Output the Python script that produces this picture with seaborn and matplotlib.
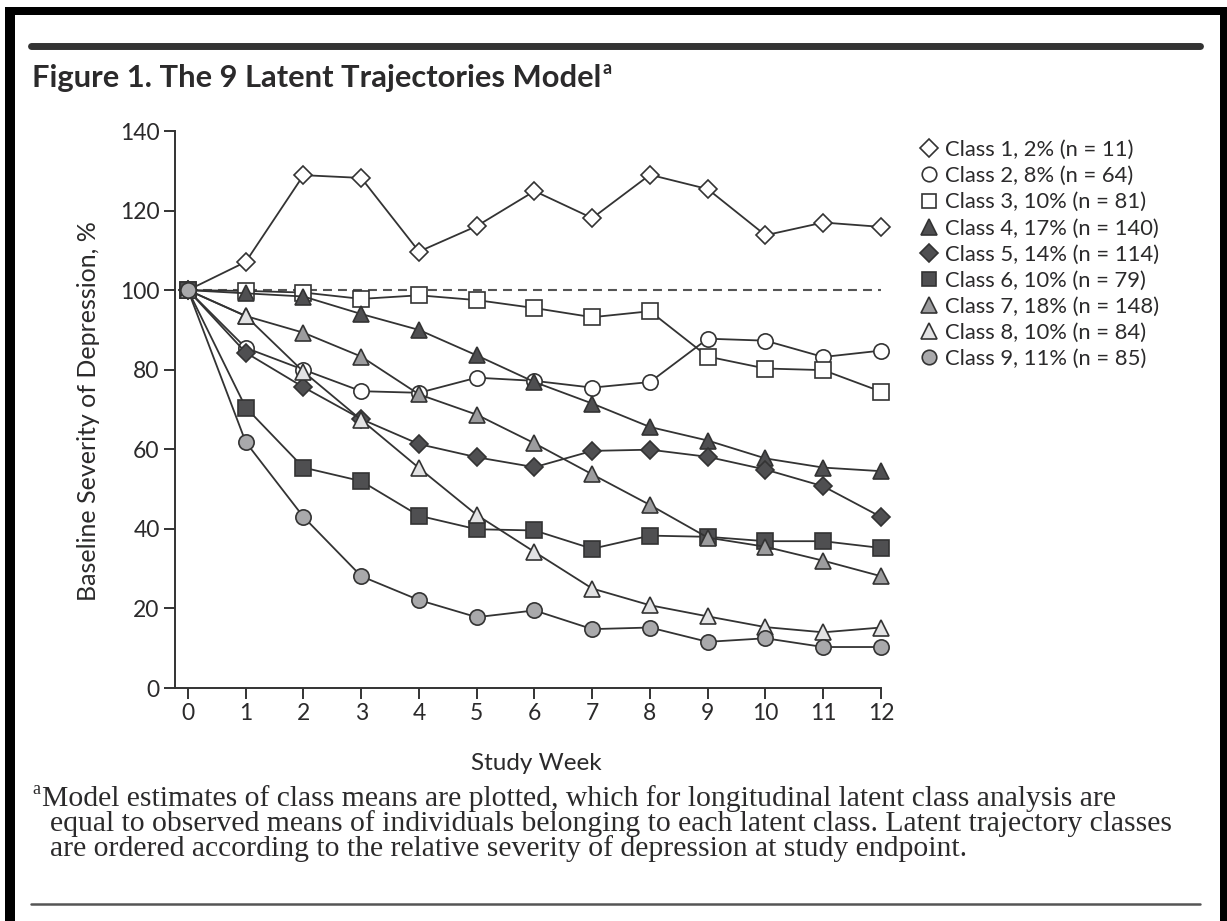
import matplotlib
matplotlib.use("Agg")
import matplotlib.pyplot as plt
from matplotlib.lines import Line2D
from matplotlib.patches import Rectangle
import pandas as pd
import seaborn as sns

# ---- data ---------------------------------------------------------------
weeks = list(range(13))
class_labels = [
    "Class 1, 2% (n = 11)",
    "Class 2, 8% (n = 64)",
    "Class 3, 10% (n = 81)",
    "Class 4, 17% (n = 140)",
    "Class 5, 14% (n = 114)",
    "Class 6, 10% (n = 79)",
    "Class 7, 18% (n = 148)",
    "Class 8, 10% (n = 84)",
    "Class 9, 11% (n = 85)",
]
class1 = [100, 107.1, 128.9, 128.2, 109.7, 116.1, 124.9, 118.1, 129.0, 125.4, 113.8, 117.0, 115.9]
class2 = [100, 85.5, 80.0, 74.6, 74.2, 78.0, 77.2, 75.5, 76.9, 87.8, 87.3, 83.2, 84.8]
class3 = [100, 99.8, 99.4, 97.8, 98.7, 97.5, 95.5, 93.2, 94.7, 83.3, 80.3, 79.9, 74.5]
class4 = [100, 99.2, 98.4, 94.0, 90.0, 83.6, 76.9, 71.5, 65.6, 62.2, 57.7, 55.4, 54.5]
class5 = [100, 84.3, 75.6, 67.6, 61.3, 58.0, 55.5, 59.6, 59.9, 58.1, 54.9, 50.7, 43.0]
class6 = [100, 70.5, 55.4, 52.0, 43.3, 39.9, 39.6, 35.0, 38.3, 38.0, 36.9, 36.9, 35.2]
class7 = [100, 93.5, 89.3, 83.3, 73.8, 68.7, 61.5, 53.7, 46.0, 37.8, 35.5, 32.0, 28.1]
class8 = [100, 93.5, 79.5, 67.4, 55.3, 43.5, 34.2, 25.0, 20.8, 18.0, 15.3, 14.0, 15.2]
class9 = [100, 61.8, 43.0, 28.1, 22.1, 17.8, 19.5, 14.8, 15.2, 11.6, 12.5, 10.3, 10.3]
series = [class1, class2, class3, class4, class5, class6, class7, class8, class9]

y_ticks = [0, 20, 40, 60, 80, 100, 120, 140]
baseline = 100

df = pd.DataFrame(
    [(lab, w, v) for lab, vals in zip(class_labels, series) for w, v in zip(weeks, vals)],
    columns=["cls", "week", "value"],
)

# ---- styling ------------------------------------------------------------
sns.set_style("white")
plt.rcParams["font.family"] = ["Lato", "DejaVu Sans"]
ink = "#2b2a2b"
plt.rcParams["text.color"] = ink

markers = ["D", "o", "s", "^", "D", "s", "^", "^", "o"]
faces = ["white", "white", "white", "#4f4f51", "#4f4f51", "#4f4f51",
         "#9c9c9e", "#e2e2e3", "#a9a9ab"]
sizes = {"D": 9.2, "o": 11.0, "s": 11.3, "^": 11.8}

fig = plt.figure(figsize=(12.27, 9.21), dpi=100)
ax = fig.add_axes([175 / 1227, 1 - 688 / 921, 706 / 1227, 557 / 921])

ax.axhline(baseline, xmin=(0 - (-0.225)) / 12.225, xmax=1.0, color="#555555",
           lw=1.5, dashes=(4.3, 2.9), zorder=1)

for i, (lab, mk, fc) in enumerate(zip(class_labels, markers, faces)):
    sns.lineplot(
        data=df[df["cls"] == lab], x="week", y="value", ax=ax,
        color="#333333", lw=1.3, marker=mk, markersize=sizes[mk],
        markerfacecolor=fc, markeredgecolor="#333333", markeredgewidth=1.2,
        zorder=2 + i, legend=False, clip_on=False,
    )

ax.set_xlim(-0.225, 12)
ax.set_ylim(0, 140)
ax.set_xticks(weeks)
ax.set_yticks(y_ticks)
ax.tick_params(axis="both", direction="out", length=8, width=1.4, color="#333333",
               labelsize=16.5, labelcolor=ink, pad=3, left=True, bottom=True)
for side in ("top", "right"):
    ax.spines[side].set_visible(False)
for side in ("left", "bottom"):
    ax.spines[side].set_color("#333333")
    ax.spines[side].set_linewidth(1.4)

ax.set_xlabel("Study Week", fontsize=17.5, color=ink)
ax.set_ylabel("Baseline Severity of Depression, %", fontsize=18, color=ink)
ax.xaxis.label.set_va("center")
ax.yaxis.label.set_va("center")
ax.xaxis.set_label_coords(0.512, -0.135)
ax.yaxis.set_label_coords((88 - 175) / 706, 0.497)

handles = [
    Line2D([], [], linestyle="none", marker=mk, markersize=sizes[mk] * 0.95,
           markerfacecolor=fc, markeredgecolor="#333333", markeredgewidth=1.2)
    for mk, fc in zip(markers, faces)
]
fig.legend(handles, class_labels, loc="upper left",
           bbox_to_anchor=(918 / 1227, 1 - 140 / 921), frameon=False,
           fontsize=15.8, labelspacing=0.28, handlelength=1.0, handletextpad=0.25,
           borderpad=0, borderaxespad=0)

# ---- title, rules, footnote, frame -------------------------------------
title = fig.text(32 / 1227, 1 - 87 / 921, "Figure 1. The 9 Latent Trajectories Model",
                 fontsize=22.2, fontweight="bold", color=ink, va="baseline")
fig.canvas.draw()
bb = title.get_window_extent()
fig.text(bb.x1 / 1227 + 0.001, 1 - 74 / 921, "a", fontsize=13, fontweight="bold",
         color=ink, va="baseline")

fig.add_artist(Line2D([31 / 1227, 1200 / 1227], [1 - 46.5 / 921] * 2,
                      color="#333333", lw=5.0, transform=fig.transFigure))
fig.add_artist(Line2D([31 / 1227, 1200 / 1227], [1 - 904 / 921] * 2,
                      color="#555555", lw=1.8, transform=fig.transFigure))

serif = ["Liberation Serif", "DejaVu Serif"]
fig.text(32 / 1227, 1 - 794 / 921, "a", fontsize=13, family=serif, color=ink, va="baseline")
foot = [
    (42, 806, "Model estimates of class means are plotted, which for longitudinal latent class analysis are"),
    (50, 831, "equal to observed means of individuals belonging to each latent class. Latent trajectory classes"),
    (50, 856, "are ordered according to the relative severity of depression at study endpoint."),
]
for x, y, s in foot:
    fig.text(x / 1227, 1 - y / 921, s, fontsize=21.3, family=serif, color=ink, va="baseline")

# black border on left, top and right
for (x0, y0, w, h) in [(5, 7, 10, 914), (5, 7, 1222, 8), (1220, 7, 7, 914)]:
    fig.add_artist(Rectangle((x0 / 1227, 1 - (y0 + h) / 921), w / 1227, h / 921,
                             color="black", transform=fig.transFigure, lw=0))

fig.savefig("out.png", dpi=100)
